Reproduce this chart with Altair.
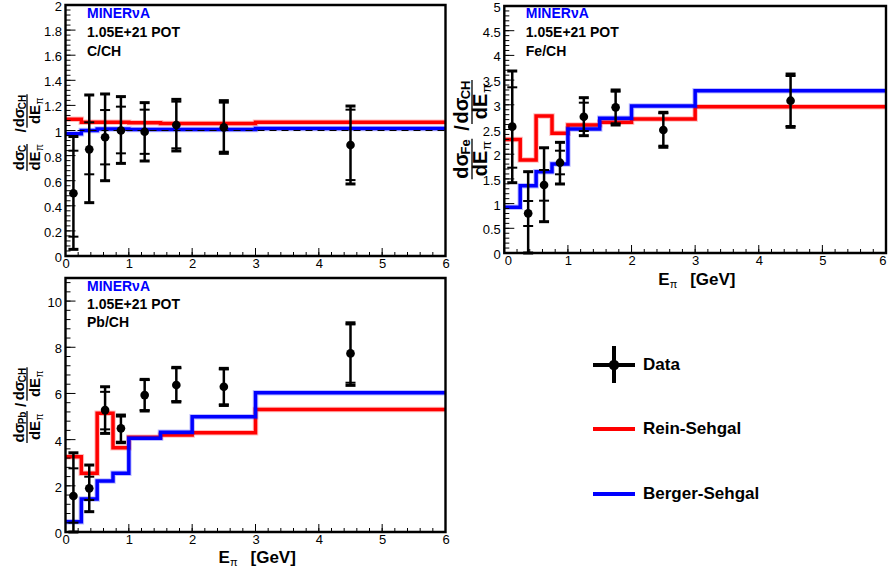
import altair as alt
import pandas as pd

FONT = "Liberation Sans"
RED = "#ff0000"
BLUE = "#0000ff"

# ---------------- data ----------------
bin_edges = [0.0, 0.25, 0.5, 0.75, 1.0, 1.5, 2.0, 3.0, 6.0]
bin_centers = [0.125, 0.375, 0.625, 0.875, 1.25, 1.75, 2.5, 4.5]

# C/CH
c_val = [0.50, 0.85, 0.946, 1.0, 0.99, 1.044, 1.025, 0.884]
c_tot_hi = [0.952, 1.283, 1.291, 1.27, 1.222, 1.248, 1.238, 1.195]
c_tot_lo = [0.053, 0.425, 0.60, 0.738, 0.757, 0.837, 0.818, 0.574]
c_stat_hi = [0.839, 1.065, 1.163, 1.19, 1.166, 1.23, 1.222, 1.166]
c_stat_lo = [0.154, 0.651, 0.73, 0.818, 0.814, 0.858, 0.831, 0.605]
c_rs = [1.09, 1.065, 1.065, 1.065, 1.062, 1.055, 1.055, 1.066]
c_bs = [0.975, 1.0, 1.012, 1.012, 1.007, 1.007, 1.007, 1.015]

# Fe/CH
fe_val = [2.557, 0.803, 1.377, 1.828, 2.759, 2.949, 2.49, 3.083]
fe_tot_hi = [3.684, 1.646, 2.13, 2.24, 3.144, 3.30, 2.848, 3.623]
fe_tot_lo = [1.423, 0.0, 0.634, 1.397, 2.375, 2.591, 2.14, 2.544]
fe_stat_hi = [3.354, 1.053, 1.68, 2.071, 3.043, 3.266, 2.828, 3.583]
fe_stat_lo = [1.727, 0.547, 1.059, 1.593, 2.47, 2.625, 2.172, 2.571]
fe_rs = [2.30, 1.883, 2.773, 2.423, 2.591, 2.645, 2.713, 2.962]
fe_bs = [0.925, 1.363, 1.646, 1.80, 2.51, 2.727, 2.976, 3.286]

# Pb/CH
pb_val = [1.558, 1.89, 5.28, 4.49, 5.93, 6.364, 6.29, 7.735]
pb_tot_hi = [3.43, 2.90, 6.29, 5.065, 6.61, 7.13, 7.087, 9.06]
pb_tot_lo = [0.0, 0.88, 4.27, 3.866, 5.24, 5.63, 5.48, 6.35]
pb_stat_hi = [2.757, 2.395, 6.07, 5.0, 6.58, 7.09, 7.04, 8.99]
pb_stat_lo = [0.404, 1.385, 4.445, 3.91, 5.28, 5.67, 5.53, 6.465]
pb_rs = [3.26, 2.54, 5.14, 3.65, 4.10, 4.20, 4.30, 5.31]
pb_bs = [0.446, 1.43, 2.21, 2.54, 4.06, 4.32, 4.99, 6.03]

experiment = "MINERνA"
exposure = "1.05E+21 POT"
target_labels = ["C/CH", "Fe/CH", "Pb/CH"]
target_subs = ["C", "Fe", "Pb"]
legend_labels = ["Data", "Rein-Sehgal", "Berger-Sehgal"]

x_domain = [0, 6]
x_major = [0, 1, 2, 3, 4, 5, 6]
x_minor = [round(i * 0.2, 2) for i in range(31)]

TOTAL_W, TOTAL_H = 888, 576


def one_row(text):
    return pd.DataFrame({"t": [text]})


def txt(text, x, y, size, color="black", weight="bold", align="left",
        angle=0, dx=0, dy=0, baseline="middle"):
    kw = dict(font=FONT, fontSize=size, fontWeight=weight, color=color,
              align=align, baseline=baseline)
    if angle:
        kw["angle"] = angle
    if dx:
        kw["dx"] = dx
    if dy:
        kw["dy"] = dy
    return alt.Chart(one_row(text)).mark_text(**kw).encode(
        x=alt.value(x), y=alt.value(y), text="t:N")


def vrule(x, y1, y2, width=1.5, color="black"):
    return alt.Chart(one_row("r")).mark_rule(color=color, strokeWidth=width).encode(
        x=alt.value(x), y=alt.value(y1), y2=alt.value(y2))


def hrule(x1, x2, y, width=1.5, color="black"):
    return alt.Chart(one_row("r")).mark_rule(color=color, strokeWidth=width).encode(
        x=alt.value(x1), x2=alt.value(x2), y=alt.value(y))


SUBW = {"C": 0.722, "CH": 1.444, "Fe": 1.167, "Pb": 1.278}


def frac(bx, cy, sub, fs, sfs, dnum, dden):
    wmain = 1.21 * fs
    wn = wmain + SUBW[sub] * sfs
    wdm = 1.278 * fs
    wd = wdm + 0.6 * sfs + 1
    L = max(wn, wd) + 1
    A = dict(angle=270, baseline="alphabetic")
    return [
        txt("dσ", bx, cy, fs, dx=-wn / 2, dy=dnum, **A),
        txt(sub, bx, cy, sfs, dx=-wn / 2 + wmain, dy=dnum + 0.12 * fs, **A),
        vrule(bx, cy - L / 2, cy + L / 2, width=1.3),
        txt("dE", bx, cy, fs, dx=-wd / 2, dy=dden, **A),
        txt("π", bx, cy, sfs, weight="normal", dx=-wd / 2 + wdm + 0.5,
            dy=dden + 0.18 * fs, **A),
    ]


def ytitle(sub, bx, c1, cs, c2, fs, sfs, dnum, dden, dslash):
    return (frac(bx, c1, sub, fs, sfs, dnum, dden)
            + [txt("/", bx, cs, fs, angle=270, align="center",
                   baseline="alphabetic", dy=dslash)]
            + frac(bx, c2, "CH", fs, sfs, dnum, dden))


def xtitle(cx, y):
    return [
        txt("E", cx - 37, y, 17),
        txt("π", cx - 25.5, y + 5, 11, weight="normal"),
        txt("[GeV]", cx - 5, y, 17),
    ]


def panel(vals, tlo, thi, slo, shi, rs, bs, ydom, ymaj, ymin, xr, yr, sub,
          label, ytp, ann_y, xtitle_y=None, xflush=False, dashed=False):
    left, right = xr
    bottom, top = yr
    xs = alt.Scale(domain=x_domain, range=list(xr), nice=False, zero=False)
    ys = alt.Scale(domain=ydom, range=list(yr), nice=False, zero=False)
    xaxis = alt.Axis(values=x_major, format="~f", ticks=False, domain=False,
                     grid=False, labelFont=FONT, labelFontSize=13,
                     labelColor="black", labelPadding=1, title=None,
                     labelFlush=xflush, orient="bottom",
                     offset=bottom - TOTAL_H)
    yaxis = alt.Axis(values=ymaj, format="~f", ticks=False, domain=False,
                     grid=False, labelFont=FONT, labelFontSize=13,
                     labelColor="black", labelPadding=4, title=None,
                     labelFlush=False, labelOffset=1.5, orient="left",
                     offset=-left)

    def X(f):
        return alt.X(f, scale=xs, axis=xaxis)

    def Y(f):
        return alt.Y(f, scale=ys, axis=yaxis)

    steps_rs = pd.DataFrame({"x": bin_edges, "y": rs + [rs[-1]]})
    steps_bs = pd.DataFrame({"x": bin_edges, "y": bs + [bs[-1]]})
    pts = pd.DataFrame({"x": bin_centers, "v": vals, "tlo": tlo, "thi": thi,
                        "slo": slo, "shi": shi})
    frame = pd.DataFrame({"x0": [x_domain[0]], "x1": [x_domain[1]],
                          "y0": [ydom[0]], "y1": [ydom[1]]})

    layers = []
    layers.append(alt.Chart(frame).mark_rect(color="white").encode(
        x=X("x0:Q"), x2="x1:Q", y=Y("y0:Q"), y2="y1:Q"))
    for df, col in ((steps_rs, RED), (steps_bs, BLUE)):
        layers.append(alt.Chart(df).mark_line(
            interpolate="step-after", color=col, strokeWidth=5.5, opacity=0.25).encode(
            x=X("x:Q"), y=Y("y:Q")))
        layers.append(alt.Chart(df).mark_line(
            interpolate="step-after", color=col, strokeWidth=3.5).encode(
            x=X("x:Q"), y=Y("y:Q")))
    if dashed:
        layers.append(alt.Chart(pd.DataFrame({"one": [1.0], "a": [x_domain[0]],
                                              "b": [x_domain[1]]})).mark_rule(
            color="black", strokeWidth=1.2, strokeDash=[7, 5]).encode(
            y=Y("one:Q"), x=X("a:Q"), x2="b:Q"))
    # error bars
    layers.append(alt.Chart(pts).mark_rule(color="black", strokeWidth=2.5).encode(
        x=X("x:Q"), y=Y("tlo:Q"), y2="thi:Q"))
    layers.append(alt.Chart(pts).transform_fold(["tlo", "thi"], as_=["k", "c"]).mark_tick(
        orient="horizontal", size=10, thickness=3, color="black", opacity=1).encode(
        x=X("x:Q"), y=Y("c:Q")))
    layers.append(alt.Chart(pts).transform_fold(["slo", "shi"], as_=["k", "c"]).mark_tick(
        orient="horizontal", size=10, thickness=2, color="black", opacity=1).encode(
        x=X("x:Q"), y=Y("c:Q")))
    layers.append(alt.Chart(pts).mark_circle(size=75, color="black", opacity=1).encode(
        x=X("x:Q"), y=Y("v:Q")))
    # inside ticks
    layers.append(alt.Chart(pd.DataFrame({"t": x_minor})).mark_rule(
        color="black", strokeWidth=1).encode(
        x=X("t:Q"), y=alt.value(bottom), y2=alt.value(bottom - 4)))
    layers.append(alt.Chart(pd.DataFrame({"t": x_major})).mark_rule(
        color="black", strokeWidth=1).encode(
        x=X("t:Q"), y=alt.value(bottom), y2=alt.value(bottom - 8)))
    layers.append(alt.Chart(pd.DataFrame({"t": ymin})).mark_rule(
        color="black", strokeWidth=1).encode(
        y=Y("t:Q"), x=alt.value(left), x2=alt.value(left + 5)))
    layers.append(alt.Chart(pd.DataFrame({"t": ymaj})).mark_rule(
        color="black", strokeWidth=1).encode(
        y=Y("t:Q"), x=alt.value(left), x2=alt.value(left + 10)))
    # frame
    layers.append(alt.Chart(frame).mark_rect(
        fillOpacity=0, stroke="black", strokeWidth=2.4).encode(
        x=X("x0:Q"), x2="x1:Q", y=Y("y0:Q"), y2="y1:Q"))
    # annotations
    ax = left + 21.5
    layers.append(txt(experiment, ax, ann_y[0], 14, color=BLUE))
    layers.append(txt(exposure, ax, ann_y[1], 14))
    layers.append(txt(label, ax, ann_y[2], 14))
    layers += ytitle(sub, **ytp)
    if xtitle_y is not None:
        layers += xtitle((left + right) / 2, xtitle_y)
    return alt.layer(*layers)


tl = panel(c_val, c_tot_lo, c_tot_hi, c_stat_lo, c_stat_hi, c_rs, c_bs,
           [0, 2], [round(i * 0.2, 2) for i in range(11)],
           [round(i * 0.04, 2) for i in range(51)], (65.5, 445.5), (256, 5),
           target_subs[0], target_labels[0],
           dict(bx=27, c1=157.5, cs=130.5, c2=111, fs=15, sfs=10,
                dnum=-3, dden=13, dslash=-1),
           ann_y=(14, 33, 52), dashed=True)
tr = panel(fe_val, fe_tot_lo, fe_tot_hi, fe_stat_lo, fe_stat_hi, fe_rs, fe_bs,
           [0, 5], [round(i * 0.5, 2) for i in range(11)],
           [round(i * 0.1, 2) for i in range(51)], (504.3, 886), (253, 6),
           target_subs[1], target_labels[1],
           dict(bx=472, c1=159, cs=128, c2=102, fs=20, sfs=13,
                dnum=-4, dden=15, dslash=-3),
           ann_y=(14, 33, 52), xtitle_y=280, xflush=True)
bl = panel(pb_val, pb_tot_lo, pb_tot_hi, pb_stat_lo, pb_stat_hi, pb_rs, pb_bs,
           [0, 11], [0, 2, 4, 6, 8, 10],
           [round(i * 0.4, 2) for i in range(28)], (65.5, 445.5), (532, 278),
           target_subs[2], target_labels[2],
           dict(bx=27, c1=427, cs=405, c2=384, fs=15, sfs=10,
                dnum=-3, dden=13, dslash=-1),
           ann_y=(287, 305, 323), xtitle_y=558)

leg = alt.layer(
    hrule(593, 635, 365, width=4),
    vrule(614, 346, 383, width=4),
    alt.Chart(one_row(legend_labels[0])).mark_circle(size=110, color="black", opacity=1).encode(
        x=alt.value(614), y=alt.value(365)),
    txt(legend_labels[0], 643, 365, 17),
    hrule(593, 635, 429, width=4, color=RED),
    txt(legend_labels[1], 643, 429, 17),
    hrule(593, 635, 494, width=4, color=BLUE),
    txt(legend_labels[2], 643, 494, 17),
)

chart = alt.layer(tl, tr, bl, leg).resolve_scale(
    x="independent", y="independent"
).resolve_axis(
    x="independent", y="independent"
).properties(
    width=TOTAL_W, height=TOTAL_H,
    autosize=alt.AutoSizeParams(type="none"),
    padding=0,
    background="white",
).configure_view(strokeOpacity=0)

chart.save("out.html", embed_options={"renderer": "svg", "actions": False})
